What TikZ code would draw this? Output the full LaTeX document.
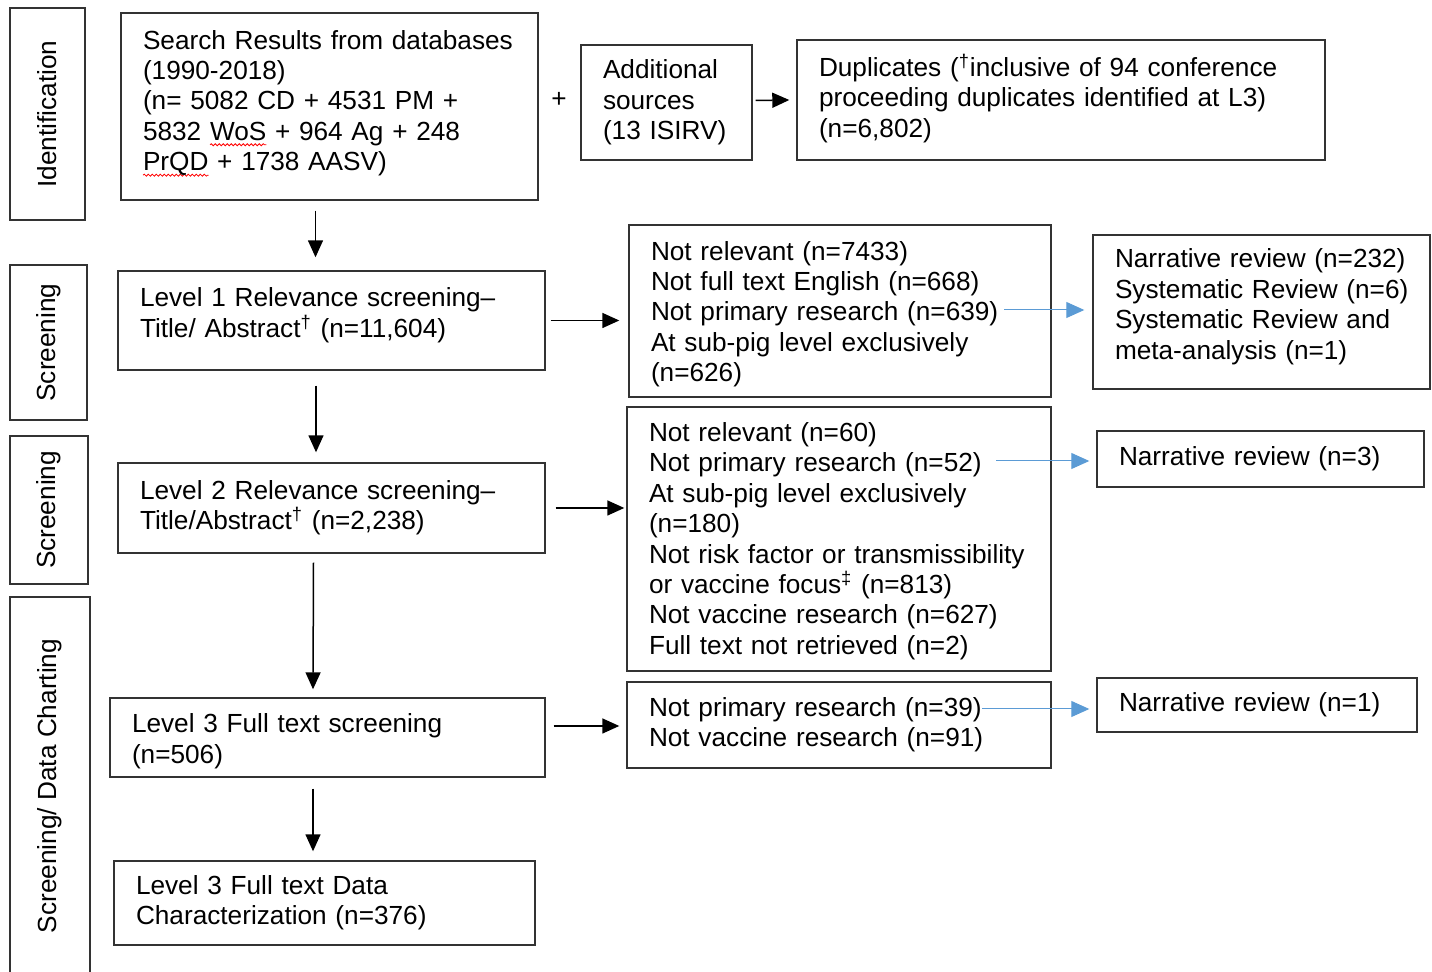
\documentclass[tikz,border=0pt]{standalone}
\usepackage{fontspec}
\setmainfont{Liberation Sans}
\usetikzlibrary{arrows.meta,calc,decorations.pathmorphing}

\definecolor{BL}{HTML}{5B9BD5}
\definecolor{BX}{HTML}{333333}
\newlength{\spw}
\newcommand{\spellmark}[1]{\settowidth{\spw}{#1}\makebox[0pt][l]{\tikz[overlay,baseline=0pt]\draw[red,line width=0.4pt,decorate,decoration={snake,amplitude=0.5pt,segment length=2pt}] (0pt,-2.2pt) -- (\spw,-2.2pt);}#1}
\newcommand{\lift}[1]{\rule[-#1]{0pt}{0pt}}
\newcommand{\drop}[1]{\rule{0pt}{#1}}

\begin{document}
\begin{tikzpicture}[x=0.5pt, y=-0.5pt,
    every node/.style={font=\fontsize{13.1}{15.2}\selectfont},
    box/.style={draw=BX, line width=0.7pt, inner xsep=11pt, inner ysep=0pt, align=left},
    side/.style={draw=BX, line width=0.7pt, rotate=90, inner sep=0pt},
    arr/.style={line width=0.75pt, -{Triangle[length=8.5pt,width=7.5pt]}},
    blarr/.style={BL, line width=0.5pt, -{Triangle[length=9pt,width=8pt]}}]
    \useasboundingbox (0,0) rectangle (1432,972);

    % stages
    \node[side, minimum width=106pt, minimum height=37.5pt] (ident) at (47.5,114) {Identification};
    \node[side, minimum width=77.5pt, minimum height=38.5pt] (scrA) at (48.5,342.5) {Screening};
    \node[side, minimum width=74pt, minimum height=39pt] (scrB) at (49,510) {Screening};
    \node[side, minimum width=189pt, minimum height=40pt] (chart) at (50,786) {Screening/ Data Charting};

    % identification
    \node[box, minimum width=208.5pt, minimum height=93.5pt, text width=186.5pt] (search) at (329.5,106.5)
        {Search Results from databases\\(1990-2018)\\(n= 5082 CD + 4531 PM +\\5832 \spellmark{WoS} + 964 Ag + 248\\\spellmark{PrQD} + 1738 AASV)\lift{6pt}};
    \node (plus) at (559,100) {+};
    \node[box, minimum width=85.5pt, minimum height=57.5pt, text width=63.5pt] (addl) at (666.5,102.5)
        {Additional\\sources\\(13 ISIRV)};
    \node[box, minimum width=264pt, minimum height=60pt, text width=242pt] (dup) at (1061,100)
        {Duplicates (\textsuperscript{†}inclusive of 94 conference\\proceeding duplicates identified at L3)\\(n=6,802)\lift{4pt}};

    % levels
    \node[box, minimum width=213.5pt, minimum height=49.5pt, text width=191.5pt] (lvA) at (331.5,320.5)
        {Level 1 Relevance screening–\\Title/ Abstract\textsuperscript{†} (n=11,604)\lift{8pt}};
    \node[box, minimum width=213.5pt, minimum height=45pt, text width=191.5pt] (lvB) at (331.5,508)
        {Level 2 Relevance screening–\\Title/Abstract\textsuperscript{†} (n=2,238)\lift{3pt}};
    \node[box, minimum width=217.5pt, minimum height=39.5pt, text width=195.5pt] (lvC) at (327.5,737.5)
        {\drop{13.4pt}Level 3 Full text screening\\(n=506)};
    \node[box, minimum width=210.5pt, minimum height=42pt, text width=188.5pt] (lvD) at (324.5,903)
        {Level 3 Full text Data\\Characterization (n=376)};

    % exclusions
    \node[box, minimum width=211pt, minimum height=86pt, text width=189pt] (exA) at (840,311)
        {\drop{12.6pt}Not relevant (n=7433)\\Not full text English (n=668)\\Not primary research (n=639)\\At sub-pig level exclusively\\(n=626)};
    \node[box, minimum width=212pt, minimum height=132pt, text width=190pt] (exB) at (839,539)
        {\drop{11.6pt}Not relevant (n=60)\\Not primary research (n=52)\\At sub-pig level exclusively\\(n=180)\\Not risk factor or transmissibility\\or vaccine focus\textsuperscript{‡} (n=813)\\Not vaccine research (n=627)\\Full text not retrieved (n=2)};
    \node[box, minimum width=212pt, minimum height=43pt, text width=190pt] (exC) at (839,725)
        {Not primary research (n=39)\\Not vaccine research (n=91)};

    % reviews
    \node[box, minimum width=168.5pt, minimum height=77pt, text width=146.5pt] (nrA) at (1261.5,312)
        {\mbox{Narrative review (n=232)}\\\mbox{Systematic Review (n=6)}\\Systematic Review and\\meta-analysis (n=1)\lift{8pt}};
    \node[box, minimum width=163.5pt, minimum height=28pt, text width=141.5pt] (nrB) at (1260.5,459)
        {Narrative review (n=3)};
    \node[box, minimum width=160pt, minimum height=27pt, text width=138pt] (nrC) at (1257,705)
        {Narrative review (n=1)};

    \draw[arr] ($(search.south)+(-14,10)$) -- ($(lvA.north)+(-16,-13)$);
    \draw[arr] ($(addl.east)+(3,-2)$) -- ($(dup.west)+(-7,0)$);
    \draw[arr] ($(lvA.east)+(5,0)$) -- ($(exA.west)+(-9,9.5)$);
    \draw[arr] ($(lvA.south)+(-15.5,15)$) -- ($(lvB.north)+(-15.5,-10)$);
    \draw[arr] ($(lvB.east)+(10,0)$) -- ($(exB.west)+(-2,-31)$);
    \draw[arr] ($(lvB.south)+(-18,9)$) -- ($(lvC.north)+(-14.5,-8)$);
    \draw[arr] ($(lvC.east)+(8,-11.5)$) -- ($(exC.west)+(-7,1)$);
    \draw[arr] ($(lvC.south)+(-14.5,11)$) -- ($(lvD.north)+(-11.5,-9)$);

    \draw[blarr] ($(nrA.west)+(-88,-2)$) -- ($(nrA.west)+(-8,-2)$);
    \draw[blarr] ($(nrB.west)+(-100,2)$) -- ($(nrB.west)+(-7,2)$);
    \draw[blarr] ($(nrC.west)+(-114,4)$) -- ($(nrC.west)+(-7,4)$);
\end{tikzpicture}
\end{document}
